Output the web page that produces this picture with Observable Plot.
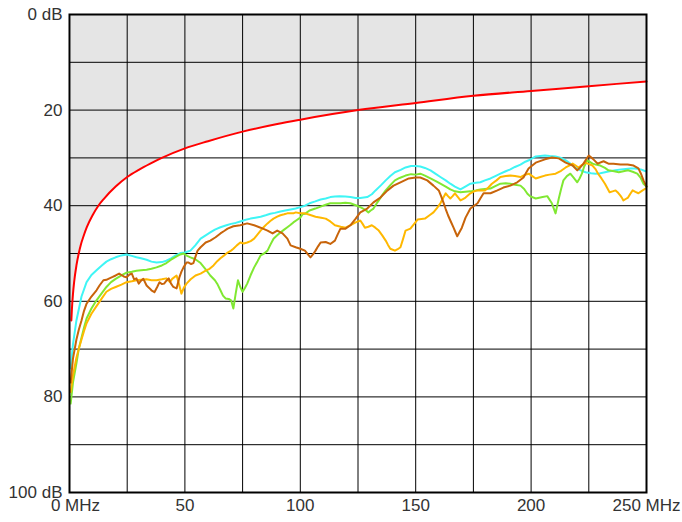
<!DOCTYPE html>
<html>
<head>
<meta charset="utf-8">
<script src="https://cdn.jsdelivr.net/npm/d3@7"></script>
<script src="https://cdn.jsdelivr.net/npm/@observablehq/plot@0.6"></script>
<style>
  html, body { margin: 0; padding: 0; background: #fff; }
  #chart svg { display: block; }
  #chart svg text { font-size: 17px !important; font-family: 'Liberation Sans', Arial, sans-serif; fill: #333; }
</style>
</head>
<body>
<div id="chart"></div>
<script>
// Limit line (dB vs MHz)
const limitPts = [[0.8,64],[1,62],[1.5,58.5],[2,56],[3,52.5],[4,50],[5,48],[6,46.5],[7.5,44.5],[10,42],[12.5,40],[15,38.5],[20,36],[25,34],[30,32.5],[35,31.2],[40,30],[50,28],[60,26.5],[75,24.5],[90,22.9],[100,22],[125,20],[150,18.5],[175,17],[200,16],[225,15],[250,14]];

const cyanPts = [[0.5,74],[1.5,69],[3,64],[5.2,59],[7.4,56],[9.5,54.5],[11.7,53.5],[14,52.5],[16,51.7],[18,51.2],[20,50.8],[22.5,50.4],[24.7,50.2],[27,50.5],[29,50.8],[31,51],[33.4,51.3],[35.5,51.7],[37.7,51.9],[40,51.8],[42,51.5],[44,51],[46,50.4],[48,49.9],[50,49.8],[52.4,49.4],[54.5,48.3],[56.8,46.9],[59,46.2],[61,45.6],[63,45],[65.4,44.5],[68,44.1],[70,43.8],[72,43.6],[74,43.3],[76,43],[78.4,42.7],[80.5,42.5],[82.8,42.3],[85,42],[87,41.7],[89,41.5],[91.4,41.2],[93.5,41],[95.8,40.8],[98,40.6],[100,40.3],[102,40],[104,39.5],[106.5,39.1],[108.8,38.7],[111,38.5],[113,38.2],[115,38.1],[117,38],[119.5,38.1],[121.7,38.2],[124,38.4],[126,38.4],[129,38.2],[131,37.6],[132.6,36.8],[135,35.7],[137,34.7],[139,33.8],[141,33],[143.5,32.5],[145.6,32],[148,31.7],[150,31.7],[152,31.8],[154,32.1],[156.4,32.6],[158.5,33.3],[160.7,34],[163,34.7],[165,35.4],[167,36],[169.4,36.6],[171.5,36],[173.7,35.4],[176,35.2],[178,35.1],[180,34.7],[182.4,34.3],[184.5,33.8],[186.7,33.3],[189,32.8],[191,32.4],[193,31.9],[195.4,31.4],[197.5,30.8],[199,30.5],[202,29.7],[204,29.6],[206,29.5],[208,29.6],[210.6,29.7],[213,30],[215,30.5],[217,31.2],[219,32],[221,32.5],[223.6,33],[226,33.2],[228,33.3],[230,33.2],[232,33],[234,32.8],[236.6,32.6],[239,32.4],[241,32.3],[243,32.2],[245,32.2],[247.5,32.4],[249.6,32.8]];

const greenPts = [[0.5,81.4],[1.5,77],[3,73],[4,70],[5.2,67.6],[6.3,65.5],[7.4,63.6],[9.5,61.5],[11.7,59.8],[14,58.3],[16,57],[18,56],[20,55.3],[22.5,54.6],[24.7,54],[27,53.8],[29,53.6],[31,53.5],[33.4,53.4],[35.5,53.2],[37.7,52.9],[40,52.5],[42,52],[44,51.3],[46.4,50.6],[48,50.2],[49.4,50],[51,50.5],[52.4,50.8],[54.5,51.2],[56.8,52],[59,53.3],[61,54.6],[63,55.6],[64.2,56.5],[65.4,57.7],[66.5,58.8],[67.6,59.4],[69,59.5],[70,59.8],[71,61.5],[72,58.4],[73,55.6],[74,57],[75,58],[76,57.2],[77,56.3],[78.5,54.5],[80,52.9],[81.5,51.6],[82.8,50.4],[84.3,50],[85.8,49.4],[87,48.2],[88.4,46.9],[90,46.2],[91.4,45.6],[93,45],[94.4,44.5],[95.8,44],[97,43.5],[98.5,43],[100,42.5],[101,41.8],[102,41.7],[104,41],[106.5,40.6],[108.8,40.2],[111,39.8],[113,39.5],[115,39.5],[117.4,39.5],[119.5,39.4],[121.7,39.5],[124,39.9],[126,40.3],[128,40.8],[129.5,41.4],[130.5,41],[131.7,40.6],[133,39.6],[134,38.9],[135.5,37.8],[137,36.8],[139,35.7],[141,34.7],[143,34.2],[145.6,33.7],[148,33.4],[150,33.5],[152,33.3],[154,33.7],[156.4,34.3],[158.5,34.8],[160.7,35.4],[163,36],[165,36.6],[167,37],[169.4,37.2],[171.5,37.1],[173.7,37],[176,36.8],[178,36.6],[180,36.5],[182.4,36.4],[184.5,35.9],[186.7,35.4],[189,35.3],[191,35.4],[193,35.6],[195.4,35.8],[197,36.5],[198.4,37.5],[199.5,38],[202,38.5],[204,38.3],[205,38.2],[207,38],[209,39.5],[210.6,41.6],[212,38.5],[213,36.5],[214,34.7],[215.5,33.8],[217,33.3],[218.5,34.2],[220,35.1],[221,34.3],[222,33.3],[223,31.8],[224.4,30.5],[226.6,31.2],[228,31.4],[230,31.6],[232,32.1],[233.5,32.6],[236,32.8],[238,33],[240,32.8],[242,32.6],[244,32.9],[246,33.3],[247.5,34.2],[248.7,35.4],[250,36]];

const orangePts = [[0.5,79],[1.5,75.5],[3,71.8],[4,70],[5.2,68],[6.3,66.2],[7.4,64.6],[9.5,62.6],[11.7,61],[14,59.4],[16,58],[18,57.4],[20,57],[22.5,56.5],[24.7,56],[27,55.8],[29,55.6],[31,55.5],[33.4,55.4],[35.5,55.6],[37.7,55.6],[40,55.4],[42,55.2],[43.5,56],[44.5,55.3],[46.4,54.6],[47.5,56.5],[48.5,58.4],[49.5,57.2],[50.7,56.3],[52.5,55.4],[54.6,54.6],[56.8,54.2],[59,53.6],[60.7,53.2],[62.4,52.5],[64,51.6],[65.4,51],[67,50.4],[68.5,49.8],[70,49.4],[71,49],[72.5,48.3],[74,47.7],[75.5,47.9],[77,47.7],[78.5,47.4],[80,46.9],[81.5,46],[82.8,45.2],[84.3,44.4],[85.8,43.7],[87,43.2],[88.4,42.7],[90,42.3],[91.4,42],[93,41.8],[94.4,41.6],[97,41.6],[98,41.4],[100,41.6],[102,41.6],[104,41.9],[106.6,42.3],[109,42.5],[111,42.7],[113,43.3],[115,44.1],[117.5,44.4],[119.6,44.6],[122,44],[124,43.5],[126,43.1],[127,43.8],[128,44.6],[129.5,44.4],[131,44.1],[132.5,44.6],[134,45.2],[135.5,46.2],[137,47.3],[138,48.2],[139,49],[141,49.4],[142.2,49.1],[143.4,48.7],[144.5,47],[145.6,45.2],[147.7,44.8],[149,44],[150.8,42.9],[152.5,42.8],[154,42.7],[156,42],[157.7,41.4],[159.2,40.5],[160.7,39.5],[162,38.3],[163,37.4],[164,38],[165,38.5],[166,38],[167,37.4],[168.3,38.2],[169.4,38.9],[170.5,38.6],[171.6,38.3],[173.7,37.4],[175.3,37],[176.8,36.8],[180,36.8],[181.5,36.2],[183,35.4],[185,34.7],[186.7,34],[189,33.8],[191,33.7],[193,33.8],[195.4,34],[197,33.6],[199,33.3],[200.5,33.8],[202,34.3],[204,34],[206,33.7],[208,33.5],[210.6,33.3],[213,32.7],[215,32],[216.5,31.6],[218,31.2],[219.3,31.6],[220.5,32],[222,31.5],[223.6,31],[225,31.3],[226.6,31.6],[228,32.4],[229,33.3],[230.5,34.3],[232,35.4],[233,36.3],[234,37.2],[235.3,37],[236.6,36.8],[237.7,37.3],[238.7,37.9],[239.4,38.4],[240,38.9],[241,38.6],[242,38.3],[243,37.5],[244,36.8],[245.2,37.1],[246.5,37.4],[248,36.9],[249.6,36.4]];

const brownPts = [[0.5,77],[1.5,72],[3,68],[4,66],[5.2,64],[6.3,62],[7.4,60.5],[9.5,59],[11.7,57.7],[13,56.7],[14.7,55.6],[16,55.5],[17.3,55.2],[18.7,54.9],[20,54.6],[21.5,54.2],[22.5,54.5],[23.5,54.8],[24.7,55],[26,54.4],[27,54.2],[28,55.4],[29,55.2],[30,56.3],[31,55.7],[32,55.3],[33.4,56.7],[34.5,57.2],[35.5,57.7],[36.8,58.1],[38,57],[39,56],[40,56.4],[41,56.3],[42,55.7],[43,55.2],[44,56.3],[45,57],[46.4,57.3],[47.6,55],[48.5,53.8],[49.4,52.9],[50.7,51.9],[51.6,51.9],[52.7,52.2],[53.7,52],[54.7,50.5],[55.5,49.4],[56.8,48.7],[59,47.7],[61,47.3],[63.3,46.6],[65.4,45.8],[67,45.3],[68.5,44.8],[71,44.3],[74,44.1],[77,43.7],[80,44.1],[82.8,44.6],[85.8,45.2],[88,45.8],[90,45.2],[92.3,45.8],[94.4,46.9],[95.8,48.3],[98,48.7],[100,49],[102,49.4],[103.3,50.2],[104.4,50.8],[105.5,50.2],[106.6,49.4],[107.7,48.5],[108.8,47.7],[111,47.6],[113,48],[115,47.3],[116.2,46],[117.4,44.8],[119.6,44.8],[121.7,44.1],[124,42.7],[126,41.4],[129,40.6],[131.7,39.3],[134.7,38.3],[137.8,36.8],[140.4,35.8],[143.4,35.1],[147,34.3],[150,34.1],[152,34.1],[155,34.7],[157.7,35.8],[160,36.8],[161,38],[162,39.3],[163,40.7],[164,42],[165.2,43.3],[166.4,44.6],[167.2,45.5],[168,46.4],[169,45.5],[170,44.6],[171.6,42.5],[173.7,40.6],[176.8,39.5],[178,38.5],[179.4,37.4],[182.4,37.4],[185.4,36.8],[188,36.2],[191,35.8],[194,35.1],[196.7,34.1],[197.6,33.3],[198.9,32.2],[200.5,31.6],[202,31],[206,30.3],[209,29.9],[212,30.1],[215,31],[218,31.6],[220,32.6],[221.3,32],[222.7,31.2],[224,30.2],[225,29.5],[226.8,30.2],[228.8,31.2],[231.4,30.7],[233.5,31.2],[235.7,31.2],[238.7,31.4],[241.8,31.4],[244.4,31.6],[246.5,32.2],[247.5,33.2],[248.7,34.7],[250,36]];

const xGrid = [25, 50, 75, 100, 125, 150, 175, 200, 225];
const yGrid = [10, 20, 30, 40, 50, 60, 70, 80, 90];
const yTicks = [0, 20, 40, 60, 80, 100];
const xTicks = [50, 100, 150, 200, 250];

const toRows = (pts) => pts.map(([f, v]) => ({f, v}));

const chart = Plot.plot({
  width: 682,
  height: 522,
  marginLeft: 69,
  marginRight: 36,
  marginTop: 14,
  marginBottom: 30,
  style: {fontFamily: "'Liberation Sans', Arial, sans-serif", fontSize: "17px", color: "#333", background: "#fff"},
  x: {domain: [0, 250]},
  y: {domain: [0, 100], reverse: true},
  marks: [
    Plot.areaY(toRows(limitPts), {x: "f", y1: 0, y2: "v", fill: "#e5e5e5"}),
    Plot.gridX(xGrid, {stroke: "#000", strokeOpacity: 1, strokeWidth: 1}),
    Plot.gridY(yGrid, {stroke: "#000", strokeOpacity: 1, strokeWidth: 1}),
    Plot.line(toRows(limitPts), {x: "f", y: "v", stroke: "#ff0000", strokeWidth: 2, curve: "monotone-x"}),
    Plot.line(toRows(cyanPts), {x: "f", y: "v", stroke: "#3ff5f5", strokeWidth: 2}),
    Plot.line(toRows(greenPts), {x: "f", y: "v", stroke: "#80e832", strokeWidth: 2}),
    Plot.line(toRows(orangePts), {x: "f", y: "v", stroke: "#ffb800", strokeWidth: 2}),
    Plot.line(toRows(brownPts), {x: "f", y: "v", stroke: "#c8640a", strokeWidth: 2}),
    Plot.frame({stroke: "#000", strokeWidth: 2}),
    Plot.axisY(yTicks, {tickSize: 0, tickPadding: 7, fontSize: 17, tickFormat: d => (d === 0 || d === 100) ? `${d} dB` : `${d}`, label: null}),
    Plot.axisX(xTicks, {tickSize: 0, tickPadding: 6, fontSize: 17, tickFormat: d => d === 250 ? "250 MHz" : `${d}`, label: null}),
    Plot.axisX([0], {tickSize: 0, tickPadding: 6, fontSize: 17, dx: 6, tickFormat: () => "0 MHz", label: null})
  ]
});
document.getElementById("chart").appendChild(chart);
</script>
</body>
</html>
